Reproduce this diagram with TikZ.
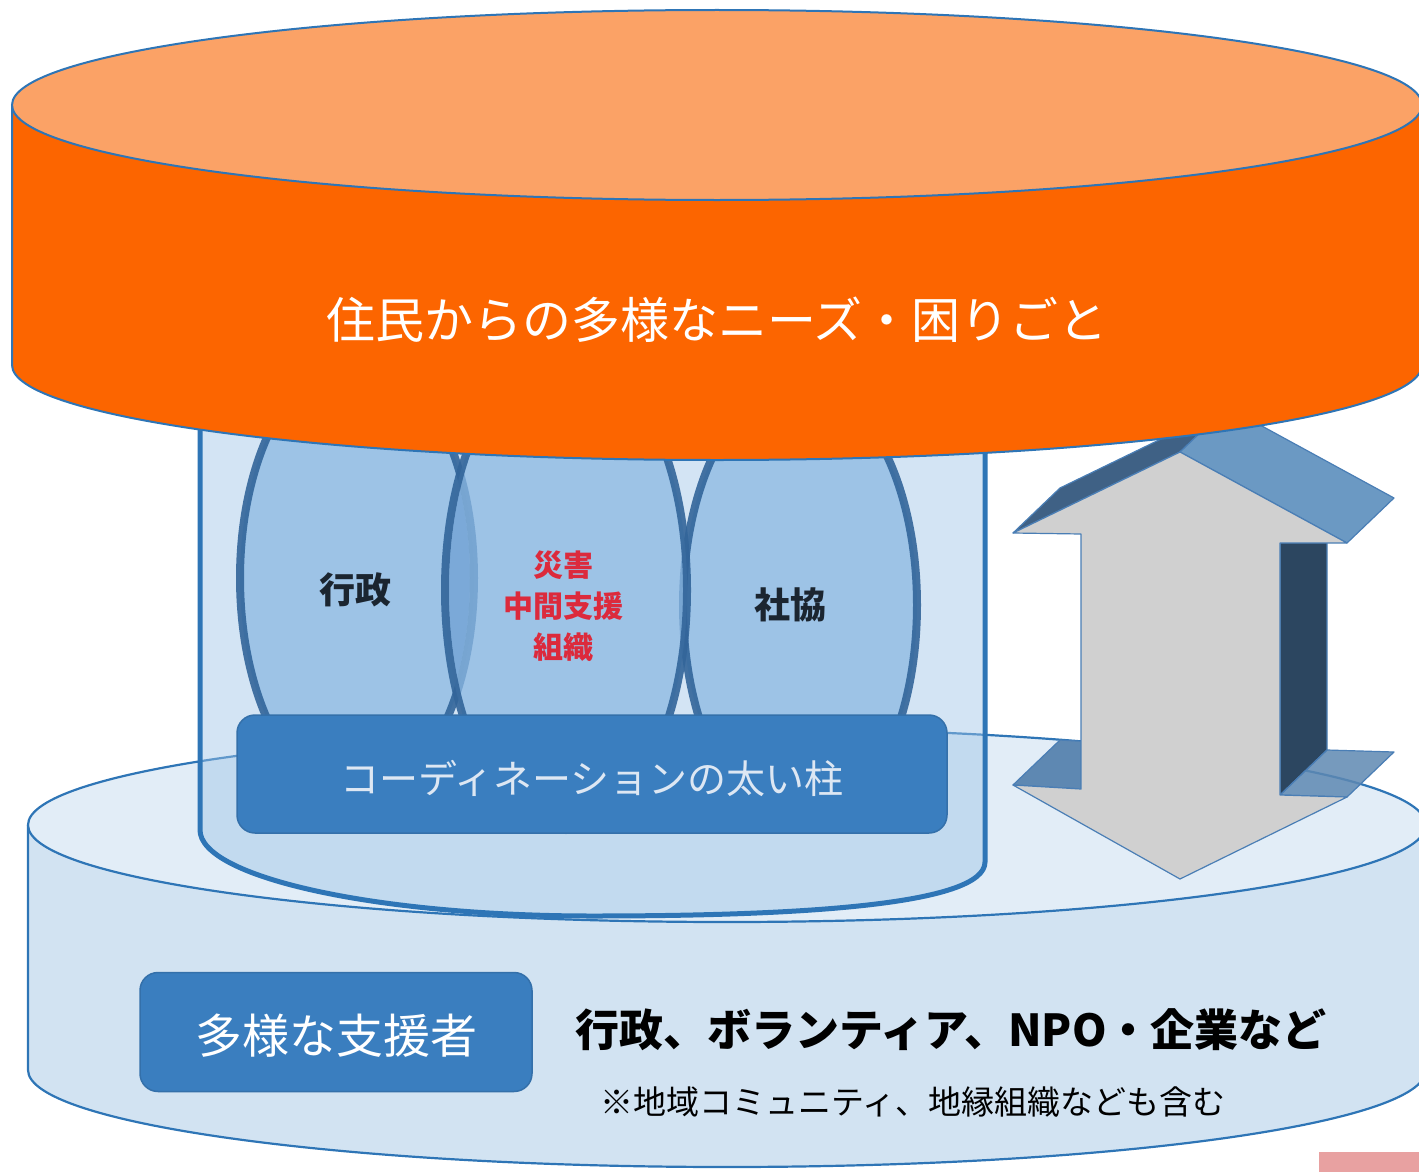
\documentclass[tikz,border=0pt]{standalone}
\usepackage{fontspec}
\newfontfamily\jp{Noto Sans CJK JP}
\definecolor{edgeblue}{HTML}{2E75B6}
\definecolor{basetopc}{HTML}{E2EDF7}
\definecolor{basesidec}{HTML}{D2E3F2}
\definecolor{pillarc}{HTML}{9DC3E6}
\definecolor{ovalc}{HTML}{8BB8E2}
\definecolor{lensc}{HTML}{6F9FD0}
\definecolor{ovaledge}{HTML}{33659A}
\definecolor{boxc}{HTML}{3A7EBF}
\definecolor{boxedge}{HTML}{3470AA}
\definecolor{orangeside}{HTML}{FC6500}
\definecolor{orangetop}{HTML}{FBA266}
\definecolor{arrowfront}{HTML}{D0D0D0}
\definecolor{arrowedge}{HTML}{4A7EB5}
\definecolor{faceA}{HTML}{3F6185}
\definecolor{faceB}{HTML}{6B99C3}
\definecolor{faceC}{HTML}{2C4660}
\definecolor{faceD}{HTML}{5E88B2}
\definecolor{redtext}{HTML}{DC2A3C}
\definecolor{darktext}{HTML}{1B2530}
\definecolor{coordtext}{HTML}{DDE7F3}
\definecolor{pinkc}{HTML}{E8A1A1}
\begin{document}
\begin{tikzpicture}[x=1pt,y=-1pt,
  thinedge/.style={draw=edgeblue,line width=2.2pt},
  ovalstyle/.style={fill=ovalc,fill opacity=0.75,draw=ovaledge,draw opacity=0.9,line width=8pt},
  roundbox/.style={fill=boxc,draw=boxedge,line width=1.5pt,rounded corners=18pt,inner sep=0pt},
  facestyle/.style={draw=arrowedge,line width=1.2pt,line join=round},
  lbl/.style={font=\jp,inner sep=0pt,align=center}]
\useasboundingbox (0,0) rectangle (1419,1172);
\clip (0,0) rectangle (1419,1172);

% ---------- base cylinder ----------
\fill[basesidec] (28,825) -- (28,1070) arc[start angle=180,end angle=0,x radius=699,y radius=97] -- (1426,825) arc[start angle=0,end angle=180,x radius=699,y radius=97] -- cycle;
\draw[thinedge] (28,825) -- (28,1070) arc[start angle=180,end angle=0,x radius=699,y radius=97] -- (1426,825);
\filldraw[thinedge,fill=basetopc] (727,825) ellipse [x radius=699,y radius=97];

% ---------- pillar ----------
\fill[pillarc,fill opacity=0.45] (200,380) -- (200,830) .. controls (200,877) and (375,916) .. (592,916) .. controls (800,916) and (985,905) .. (985,862) -- (985,380) -- cycle;
\draw[edgeblue,line width=5pt] (200,380) -- (200,830) .. controls (200,877) and (375,916) .. (592,916) .. controls (800,916) and (985,905) .. (985,862) -- (985,380);

% ---------- ovals ----------
\path[ovalstyle] (357,578) ellipse [x radius=117,y radius=220];
\path[ovalstyle] (800,605) ellipse [x radius=117,y radius=223];
\path[ovalstyle] (566,590) ellipse [x radius=121,y radius=240];
\begin{scope}
  \clip (357,578) ellipse [x radius=113,y radius=216];
  \fill[lensc,fill opacity=0.6] (566,590) ellipse [x radius=117,y radius=236];
\end{scope}
\begin{scope}
  \clip (800,605) ellipse [x radius=113,y radius=219];
  \fill[lensc,fill opacity=0.6] (566,590) ellipse [x radius=117,y radius=236];
\end{scope}
\node[lbl,text=darktext,font=\jp\bfseries\fontsize{36}{40}\selectfont] (gyosei) at (355,590) {行政};
\node[lbl,text=redtext,font=\jp\bfseries\fontsize{30}{41}\selectfont] (chukan) at (563,606) {災害\\中間支援\\組織};
\node[lbl,text=darktext,font=\jp\bfseries\fontsize{36}{40}\selectfont] (shakyo) at (790,605) {社協};

% ---------- coordination box ----------
\node[roundbox,minimum width=710pt,minimum height=118pt] (coord) at (592,774) {};
\node[lbl,text=coordtext,font=\jp\fontsize{39}{44}\selectfont] (coordtxt) at (592,778) {コーディネーションの太い柱};

% ---------- 3D double arrow ----------
\filldraw[facestyle,fill=faceC] (1280,543) -- (1327,498) -- (1327,750) -- (1280,795) -- cycle;
\filldraw[facestyle,fill=faceA] (1013,533) -- (1060,488) -- (1227,407) -- (1180,452) -- cycle;
\filldraw[facestyle,fill=faceB] (1180,452) -- (1227,407) -- (1394,498) -- (1347,543) -- cycle;
\filldraw[facestyle,fill=faceD] (1013,785) -- (1060,740) -- (1128,744) -- (1081,789) -- cycle;
\filldraw[facestyle,fill=faceD,fill opacity=0.85] (1280,795) -- (1327,750) -- (1394,752) -- (1347,797) -- cycle;
\filldraw[facestyle,fill=arrowfront] (1180,452) -- (1347,543) -- (1280,543) -- (1280,795) -- (1347,797) -- (1180,879) -- (1013,785) -- (1081,789) -- (1081,534) -- (1013,533) -- cycle;

% ---------- orange cylinder ----------
\fill[orangeside] (12,105) -- (12,365) arc[start angle=180,end angle=0,x radius=705,y radius=95] -- (1422,105) arc[start angle=0,end angle=180,x radius=705,y radius=95] -- cycle;
\draw[thinedge,line width=2pt] (12,105) -- (12,365) arc[start angle=180,end angle=0,x radius=705,y radius=95] -- (1422,105);
\filldraw[thinedge,line width=2pt,fill=orangetop] (717,105) ellipse [x radius=705,y radius=95];
\node[lbl,text=white,font=\jp\fontsize{49}{54}\selectfont] (needs) at (717,320) {住民からの多様なニーズ・困りごと};

% ---------- supporters ----------
\node[roundbox,minimum width=392pt,minimum height=119pt] (supbox) at (336,1032) {};
\node[lbl,text=white,font=\jp\fontsize{47}{52}\selectfont] (suptxt) at (336,1036) {多様な支援者};
\node[lbl,anchor=west,text=black,font=\jp\bfseries\fontsize{44}{50}\selectfont] (suplist) at (575,1030) {行政、ボランティア、NPO・企業など};
\node[lbl,anchor=west,text=black,font=\jp\fontsize{33}{38}\selectfont] (supnote) at (600,1102) {※地域コミュニティ、地縁組織なども含む};

% ---------- corner mark ----------
\fill[pinkc] (1319,1152) rectangle (1419,1172);
\end{tikzpicture}
\end{document}
